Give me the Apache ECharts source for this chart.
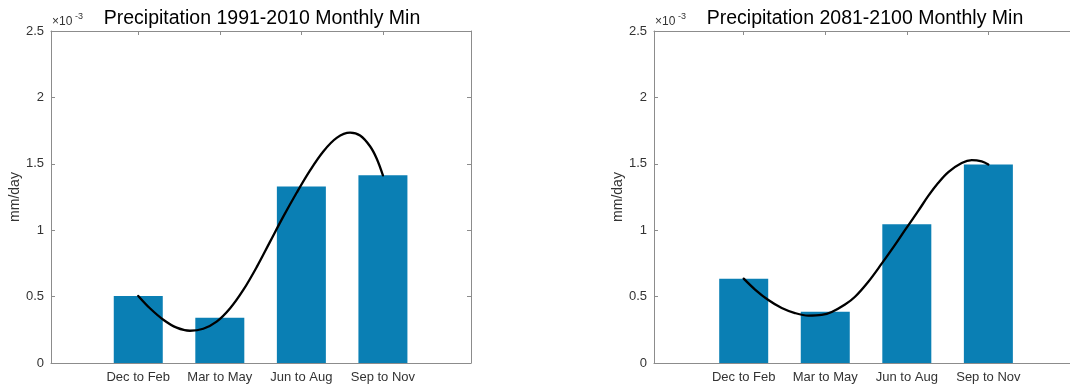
<!DOCTYPE html>
<html>
<head>
<meta charset="utf-8">
<script src="https://cdn.jsdelivr.net/npm/echarts@6/dist/echarts.min.js"></script>
<style>
  html, body { margin: 0; padding: 0; background: #fff; overflow: hidden; }
  /* the second panel's frame runs a few pixels past the right edge of the window */
  #chart { width: 1078px; height: 387px; }
</style>
</head>
<body>
<div id="chart"></div>
<script>
// Seasons on the x axis (bar centres at 1..4)
const categories = ['Dec to Feb', 'Mar to May', 'Jun to Aug', 'Sep to Nov'];
const seasonPos = [1, 2, 3, 4];
// y ticks, values in units of 10^-3 mm/day
const yTicks = [0, 0.5, 1, 1.5, 2, 2.5];

// Seasonal minimum precipitation (×10^-3 mm/day)
const minPrecip1991 = [0.505, 0.34, 1.33, 1.413];
const minPrecip2081 = [0.635, 0.385, 1.045, 1.495];

// Smooth fitted curve through the seasons, 1991-2010
const fit1991X = [1.0, 1.143, 1.307, 1.471, 1.634, 1.797, 1.961, 2.124, 2.288, 2.452, 2.615,
                  2.778, 2.942, 3.105, 3.269, 3.433, 3.597, 3.72, 3.842, 3.923, 4.0];
const fit1991Y = [0.505, 0.412, 0.326, 0.266, 0.243, 0.258, 0.311, 0.41, 0.55, 0.722, 0.912,
                  1.102, 1.282, 1.449, 1.593, 1.695, 1.734, 1.713, 1.632, 1.54, 1.413];

// Smooth fitted curve through the seasons, 2081-2100
const fit2081X = [1.0, 1.139, 1.302, 1.466, 1.629, 1.792, 1.956, 2.079, 2.242, 2.365, 2.528,
                  2.692, 2.855, 2.977, 3.14, 3.263, 3.386, 3.509, 3.673, 3.796, 3.918, 4.0];
const fit2081Y = [0.635, 0.553, 0.474, 0.414, 0.376, 0.357, 0.362, 0.384, 0.44, 0.499, 0.612,
                  0.748, 0.889, 1.0, 1.145, 1.258, 1.357, 1.438, 1.506, 1.528, 1.518, 1.495];

const panels = [
  { title: 'Precipitation 1991-2010 Monthly Min', bars: minPrecip1991, fx: fit1991X, fy: fit1991Y,
    left: 51, width: 420, xmin: -0.07, xmax: 5.08, rightEdge: true },
  { title: 'Precipitation 2081-2100 Monthly Min', bars: minPrecip2081, fx: fit2081X, fy: fit2081Y,
    left: 654, width: 420, xmin: -0.10, xmax: 5.05, rightEdge: false }
];

const FONT = '"Liberation Sans", Arial, Helvetica, sans-serif';
const AXIS_COLOR = '#8c8c8c';
const LABEL_COLOR = '#333333';
const GRID_TOP = 31, GRID_H = 332;

const chart = echarts.init(document.getElementById('chart'), null, { renderer: 'canvas' });

const grid = [], xAxis = [], yAxis = [], series = [], title = [], graphic = [];

panels.forEach((p, i) => {
  grid.push({ left: p.left, width: p.width, top: GRID_TOP, height: GRID_H, containLabel: false });

  const axisLine = { show: true, onZero: false, lineStyle: { color: AXIS_COLOR, width: 1 } };
  const tick = { show: true, inside: true, length: 4, customValues: seasonPos,
                 lineStyle: { color: AXIS_COLOR, width: 1 } };

  // bottom axis with season labels
  xAxis.push({
    type: 'value', gridIndex: i, position: 'bottom', min: p.xmin, max: p.xmax,
    axisLine, splitLine: { show: false }, axisTick: tick,
    axisLabel: {
      customValues: seasonPos, margin: 8, fontSize: 13, fontFamily: FONT, color: LABEL_COLOR,
      formatter: v => categories[Math.round(v) - 1] || ''
    }
  });
  // top frame edge
  xAxis.push({
    type: 'value', gridIndex: i, position: 'top', min: p.xmin, max: p.xmax,
    axisLine, splitLine: { show: false }, axisTick: tick, axisLabel: { show: false }
  });

  const yTick = { show: true, inside: true, length: 4, customValues: yTicks,
                  lineStyle: { color: AXIS_COLOR, width: 1 } };
  yAxis.push({
    type: 'value', gridIndex: i, position: 'left', min: 0, max: 2.5, interval: 0.5,
    axisLine, splitLine: { show: false }, axisTick: yTick,
    axisLabel: { margin: 7, fontSize: 13, fontFamily: FONT, color: LABEL_COLOR, formatter: v => String(v) },
    name: 'mm/day', nameLocation: 'middle', nameGap: 28, nameRotate: 90,
    nameTextStyle: { fontSize: 14, fontFamily: FONT, color: LABEL_COLOR }
  });
  // right frame edge
  yAxis.push({
    type: 'value', gridIndex: i, position: 'right', min: 0, max: 2.5, interval: 0.5,
    axisLine: { ...axisLine, show: p.rightEdge }, splitLine: { show: false },
    axisTick: { ...yTick, show: p.rightEdge }, axisLabel: { show: false }
  });

  series.push({
    type: 'bar', xAxisIndex: 2 * i, yAxisIndex: 2 * i,
    data: seasonPos.map((x, k) => [x, p.bars[k]]),
    barWidth: 49, itemStyle: { color: '#0A7FB4' }, silent: true, z: 2
  });
  series.push({
    type: 'line', xAxisIndex: 2 * i, yAxisIndex: 2 * i,
    data: p.fx.map((x, k) => [x, p.fy[k]]),
    smooth: 0.35, showSymbol: false, silent: true, z: 3,
    lineStyle: { color: '#000', width: 2.3, cap: 'round', join: 'round' }
  });

  title.push({
    text: p.title, left: p.left + 211, top: 9, padding: 0, textAlign: 'center',
    textStyle: { fontSize: 19.5, fontWeight: 'normal', fontFamily: FONT, color: '#000' }
  });

  // axis exponent marker
  graphic.push({
    type: 'text', left: p.left + 1, top: 16,
    style: { text: '×10', font: '12px ' + FONT, fill: LABEL_COLOR }
  });
  graphic.push({
    type: 'text', left: p.left + 24, top: 12,
    style: { text: '-3', font: '9px ' + FONT, fill: LABEL_COLOR }
  });
});

chart.setOption({
  animation: false,
  backgroundColor: '#fff',
  title, grid, xAxis, yAxis, series, graphic
});
</script>
</body>
</html>
